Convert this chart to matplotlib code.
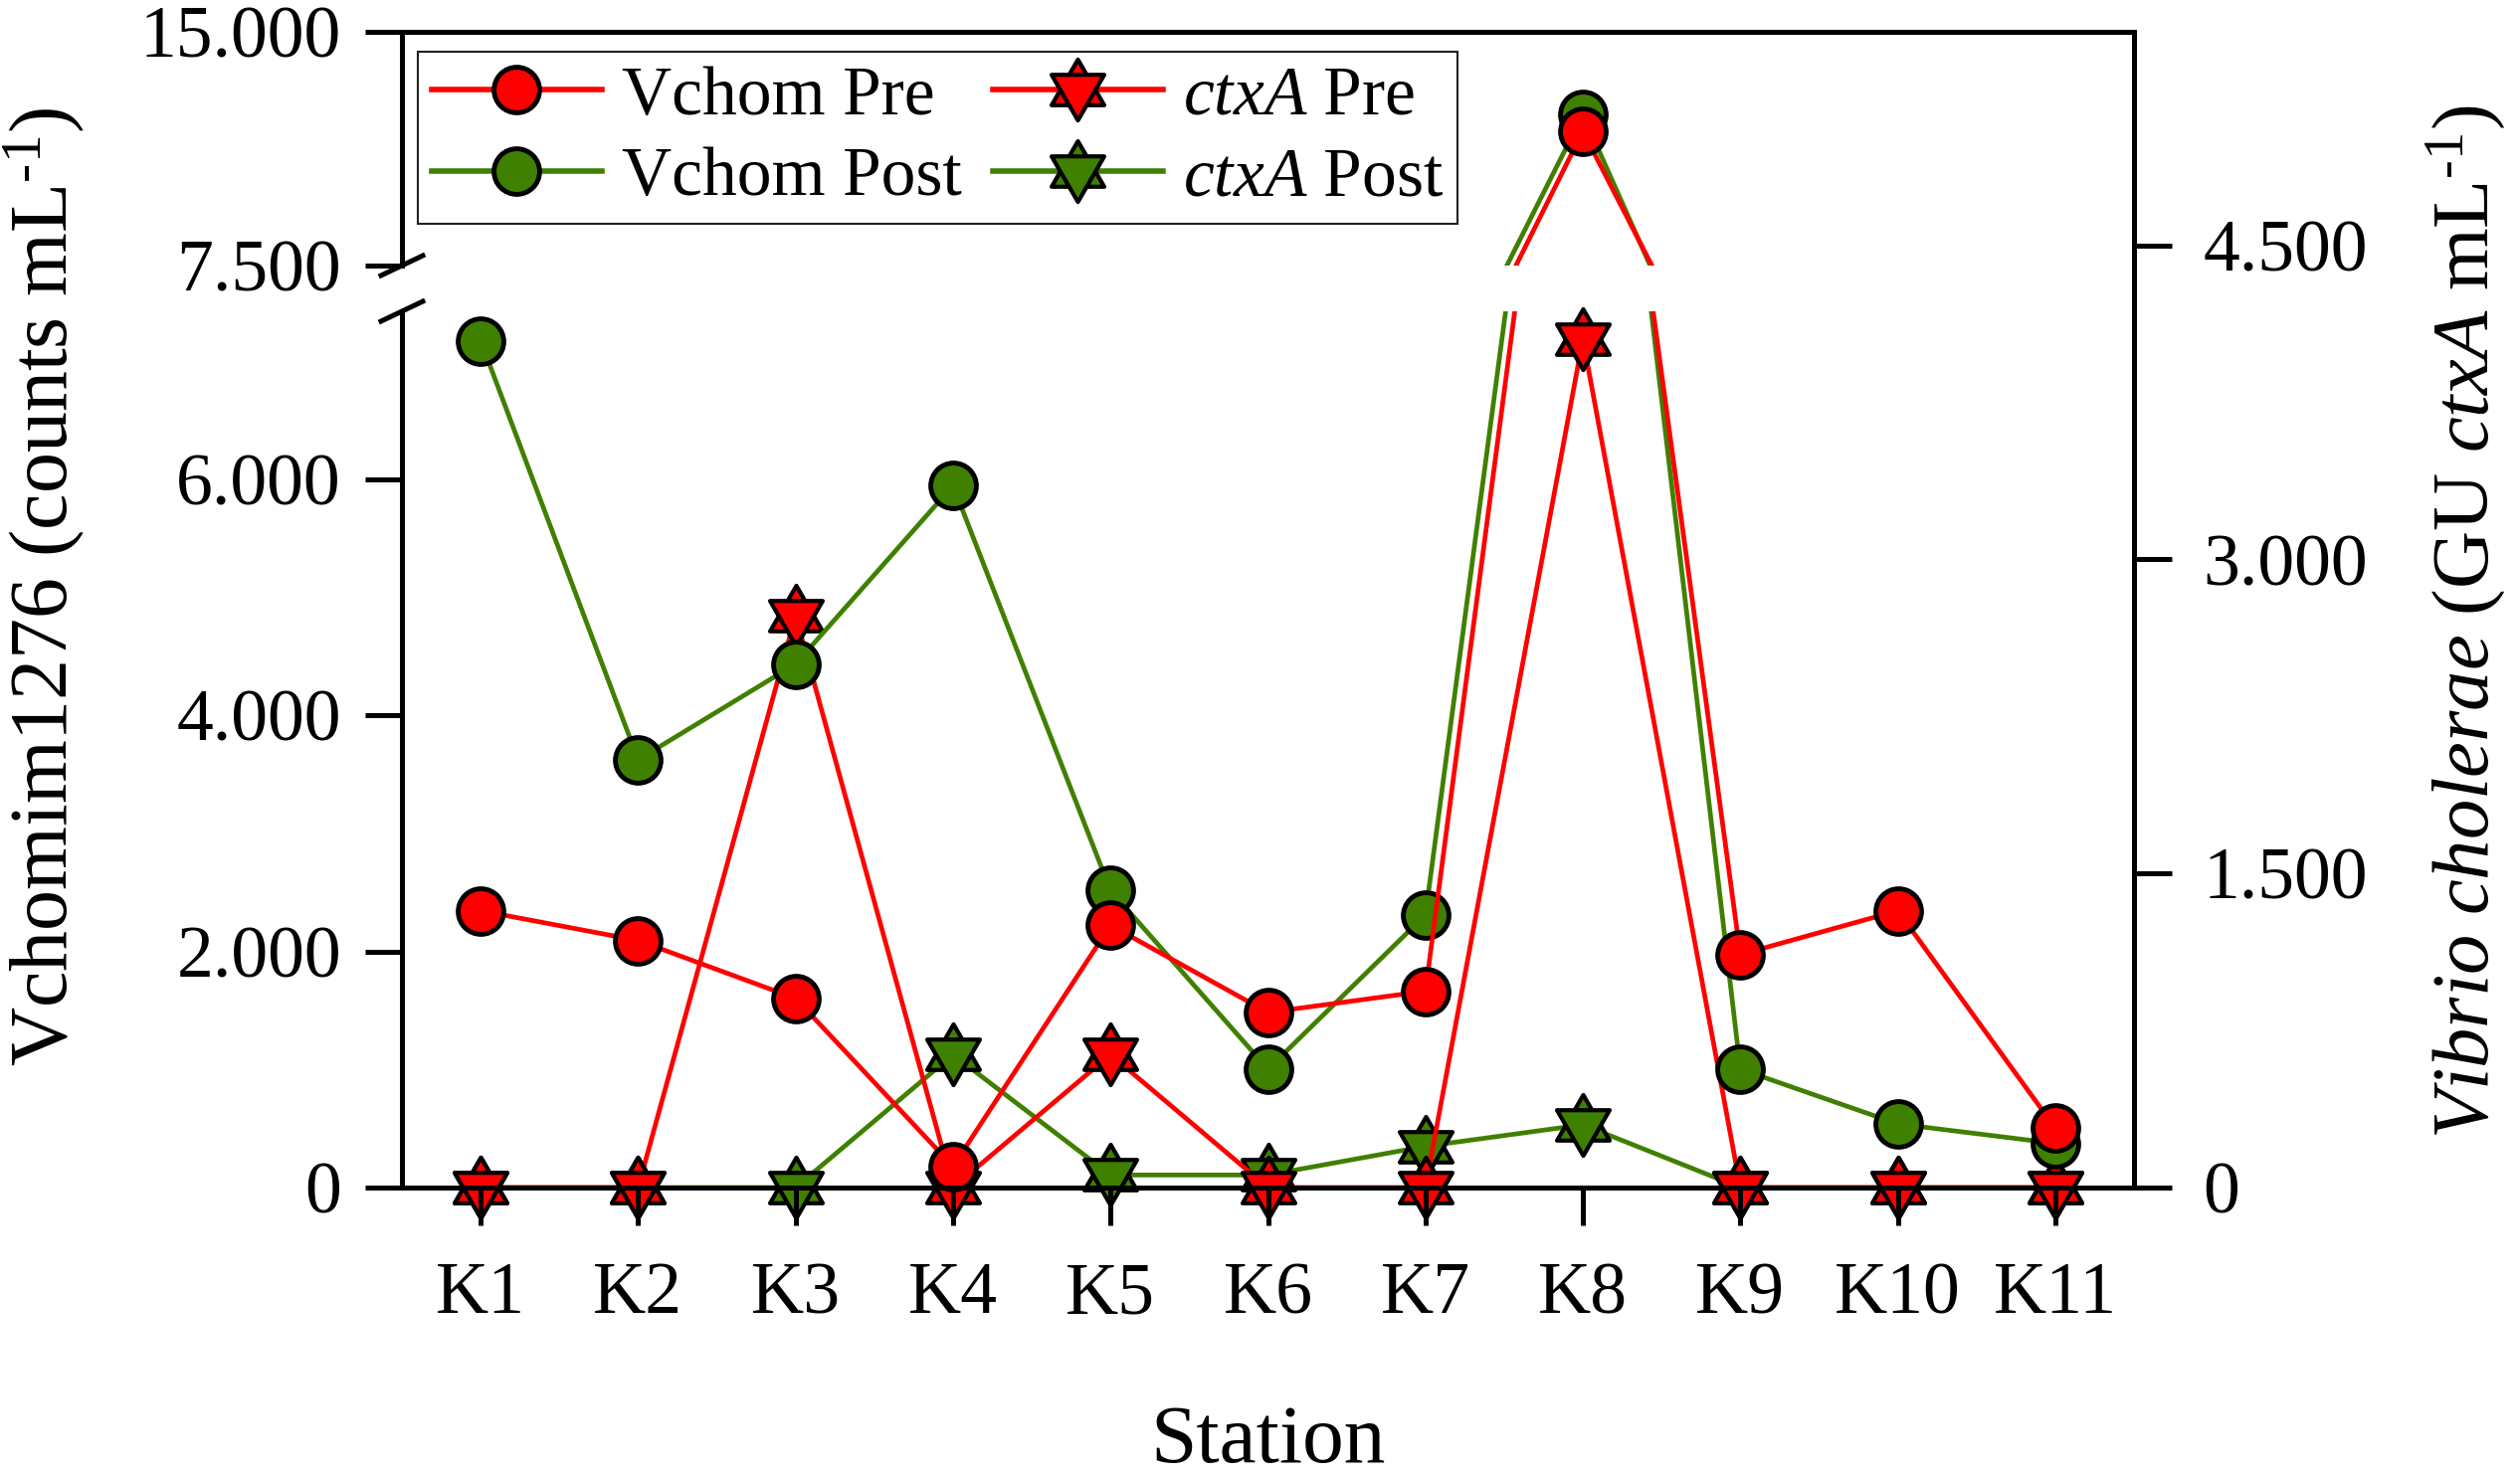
import numpy as np
import matplotlib
matplotlib.use("Agg")
import matplotlib.pyplot as plt
from matplotlib.lines import Line2D
from matplotlib.path import Path
from matplotlib.ticker import FuncFormatter
from matplotlib.legend_handler import HandlerTuple

# values
stations = ["K1", "K2", "K3", "K4", "K5", "K6", "K7", "K8", "K9", "K10", "K11"]
vchom_pre = [2344, 2092, 1602, 179, 2221, 1483, 1663, 11811, 1973, 2344, 504]
vchom_post = [7171, 3623, 4433, 5944, 2515, 1003, 2308, 12345, 1003, 539, 374]
ctxa_pre = [0, 0, 2732, 0, 635, 0, 0, 4052, 0, 0, 0]
ctxa_post = [0, 0, 0, 635, 60, 60, 197, 300, 0, 0, 0]

RED = "#ff0000"
GREEN = "#408000"

plt.rcParams["font.family"] = ["Liberation Serif", "DejaVu Serif"]
plt.rcParams["mathtext.fontset"] = "custom"
plt.rcParams["mathtext.rm"] = "Liberation Serif"
plt.rcParams["mathtext.it"] = "Liberation Serif:italic"

# star of David marker = up triangle under a down triangle
TRI_UP = Path([(0, 1), (-0.866, -0.5), (0.866, -0.5), (0, 1)], closed=True)
TRI_DOWN = Path([(0, -1), (-0.866, 0.5), (0.866, 0.5), (0, -1)], closed=True)

W, H = 2533, 1483
fig = plt.figure(figsize=(W / 100, H / 100), dpi=100)


def px_box(x0, y0, x1, y1):
    return [x0 / W, 1 - y1 / H, (x1 - x0) / W, (y1 - y0) / H]


x_left, x_right = 404, 2145
y_top, y_zero = 32, 1194
y_brk_up, y_brk_low = 267, 313

ax_r = fig.add_axes(px_box(x_left, y_top, x_right, y_zero))
ax_low = fig.add_axes(px_box(x_left, y_brk_low, x_right, y_zero))
ax_up = fig.add_axes(px_box(x_left, y_top, x_right, y_brk_up))

x = np.arange(1, len(stations) + 1)
LW = 3.4
SPW = 3.6
TICK = dict(direction="out", length=27, width=SPW, labelsize=53)
fmt = FuncFormatter(lambda v, p: f"{v:,.0f}".replace(",", "."))


def draw_vchom(ax, values, color, lo, hi):
    v = np.array(values, dtype=float)
    ax.plot(x, v, color=color, lw=LW)
    m = (v >= lo) & (v <= hi)
    ax.plot(x[m], v[m], ls="none", marker="o", ms=33, mfc=color, mec="k",
            mew=3.5, clip_on=False)


def draw_ctxa(ax, values, color):
    ax.plot(x, values, color=color, lw=LW, clip_on=False)
    for mk in (TRI_UP, TRI_DOWN):
        ax.plot(x, values, ls="none", marker=mk, ms=44, mfc=color, mec="k",
                mew=3, clip_on=False)


# right axis (ctxA)
draw_ctxa(ax_r, ctxa_post, GREEN)
draw_ctxa(ax_r, ctxa_pre, RED)
ax_r.set_ylim(0, 5520)
ax_r.set_yticks([0, 1500, 3000, 4500])
ax_r.yaxis.set_major_formatter(fmt)
ax_r.yaxis.tick_right()
ax_r.tick_params(axis="y", pad=23, **TICK)
ax_r.tick_params(axis="x", bottom=False, labelbottom=False)

# broken left axis (Vchom)
lo_top = 7420
for ax, lo, hi in ((ax_low, 0, lo_top), (ax_up, 7500, 15000)):
    draw_vchom(ax, vchom_post, GREEN, lo, hi)
    draw_vchom(ax, vchom_pre, RED, lo, hi)
    ax.set_ylim(lo, hi)
    ax.patch.set_visible(False)
    ax.yaxis.set_major_formatter(fmt)
    ax.tick_params(axis="y", pad=17, **TICK)

for ax in (ax_r, ax_low, ax_up):
    ax.set_xlim(0.5, len(stations) + 0.5)
    for s in ax.spines.values():
        s.set_linewidth(SPW)
        s.set_visible(False)

ax_r.spines["right"].set_visible(True)
ax_low.spines["left"].set_visible(True)
ax_low.spines["bottom"].set_visible(True)
ax_up.spines["left"].set_visible(True)
ax_up.spines["top"].set_visible(True)

ax_low.set_yticks([0, 2000, 4000, 6000])
ax_up.set_yticks([7500, 15000])
ax_up.tick_params(axis="x", bottom=False, labelbottom=False)
ax_low.set_xticks(x)
ax_low.set_xticklabels(stations)
ax_low.tick_params(axis="x", pad=27, **TICK)

# break marks on the left spine
for yc in (y_brk_up, y_brk_low):
    fig.add_artist(Line2D([(x_left - 21) / W, (x_left + 21) / W],
                          [1 - (yc + 10) / H, 1 - (yc - 10) / H],
                          transform=fig.transFigure, color="k", lw=SPW))

# axis titles
fig.text(45 / W, 1 - 590 / H, r"Vchomim1276 (counts mL$^{\text{-}1}$)", rotation=90,
         ha="center", va="center", fontsize=59)
fig.text(2479 / W, 1 - 625 / H,
         r"$\mathit{Vibrio\ cholerae}$ (GU $\mathit{ctxA}$ mL$^{\text{-}1}$)",
         rotation=90, ha="center", va="center", fontsize=58)
fig.text((x_left + x_right) / 2 / W, 1 - 1450 / H, "Station",
         ha="center", va="center", fontsize=60)

# legend
def circ(c):
    return Line2D([], [], color=c, lw=LW + 0.6, marker="o", ms=33, mfc=c, mec="k", mew=3.5)


def star(c):
    return (Line2D([], [], color=c, lw=LW + 0.6, marker=TRI_UP, ms=44, mfc=c, mec="k", mew=3),
            Line2D([], [], ls="none", marker=TRI_DOWN, ms=44, mfc=c, mec="k", mew=3))


handles = [circ(RED), circ(GREEN), star(RED), star(GREEN)]
labels = ["Vchom Pre", "Vchom Post", r"$\mathit{ctxA}$ Pre", r"$\mathit{ctxA}$ Post"]
leg = ax_up.legend(handles, labels, ncol=2, loc="upper left",
                   bbox_to_anchor=(420 / W, 1 - 52 / H), bbox_transform=fig.transFigure,
                   fontsize=50, frameon=True, fancybox=False, edgecolor="#222222",
                   framealpha=1, borderpad=0.2, handlelength=2.46, handletextpad=0.29,
                   columnspacing=0.45, labelspacing=0.26, borderaxespad=0,
                   handler_map={tuple: HandlerTuple(ndivide=1)})
leg.get_frame().set_linewidth(1.5)

fig.savefig("out.png", dpi=100)
